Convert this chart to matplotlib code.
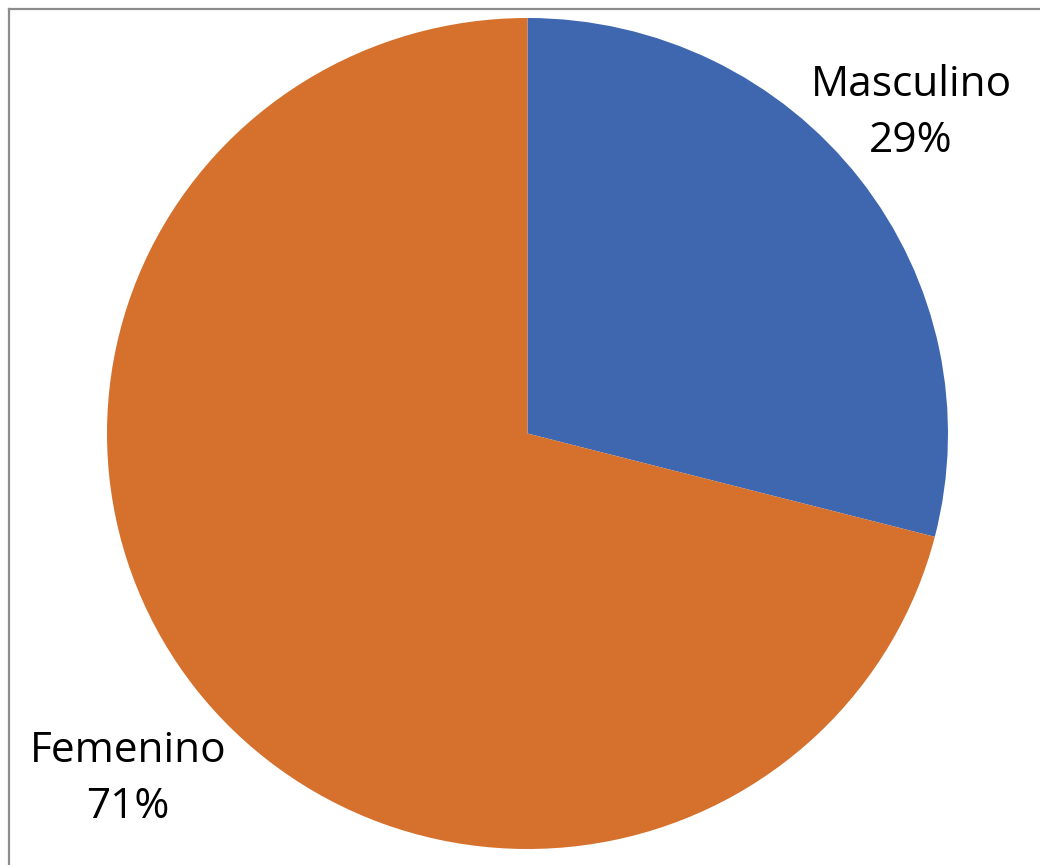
import matplotlib
matplotlib.use("Agg")
import matplotlib.pyplot as plt
from matplotlib.lines import Line2D

categories = ["Masculino", "Femenino"]
values = [29, 71]
colors = ["#3E67AF", "#D5702D"]

W, H = 1040, 865
fig = plt.figure(figsize=(W / 100, H / 100), dpi=100)
fig.patch.set_facecolor("white")

# frame (only top and left visible, rest cropped)
fig.add_artist(Line2D([9 / W, 1.0], [1 - 9 / H, 1 - 9 / H], transform=fig.transFigure,
                      color="#8C8C8C", linewidth=1.6))
fig.add_artist(Line2D([9 / W, 9 / W], [0.0, 1 - 9 / H], transform=fig.transFigure,
                      color="#8C8C8C", linewidth=1.6))

left, right, top, bottom = 107, 948, 18, 849
ax = fig.add_axes([left / W, 1 - bottom / H, (right - left) / W, (bottom - top) / H])
ax.pie(values, colors=colors, startangle=90, counterclock=False,
       wedgeprops=dict(linewidth=0), radius=1.0, normalize=True)
ax.set_aspect("auto")
ax.set_xlim(-1, 1)
ax.set_ylim(-1, 1)
ax.axis("off")

label_pos = [(911, 113), (128, 779)]
for cat, v, (x, y) in zip(categories, values, label_pos):
    fig.text(x / W, 1 - y / H, f"{cat}\n{v}%", ha="center", va="center",
             fontsize=30.5, family="Open Sans", color="black", linespacing=1.45)

fig.savefig("out.png", dpi=100, facecolor="white")
